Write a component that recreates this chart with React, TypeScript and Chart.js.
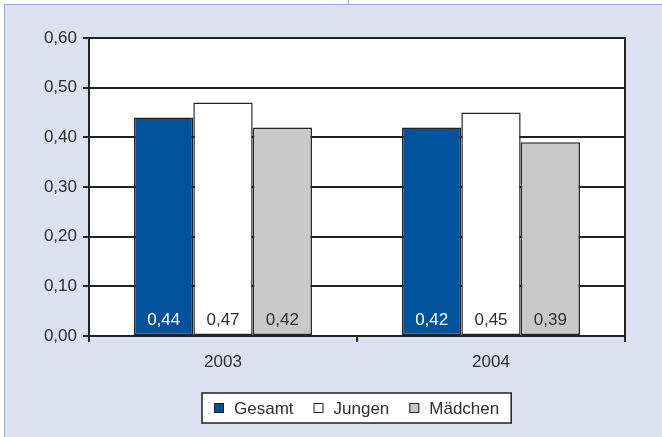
import React, { useEffect, useRef } from "react";
import { Chart, registerables } from "chart.js";

Chart.register(...registerables);

const categories = ["2003", "2004"];
const seriesLabels = ["Gesamt", "Jungen", "Mädchen"];
const gesamt = [0.44, 0.42];
const jungen = [0.47, 0.45];
const maedchen = [0.42, 0.39];
const yTicks = [0, 0.1, 0.2, 0.3, 0.4, 0.5, 0.6];

const FONT = "'Liberation Sans', Arial, Helvetica, sans-serif";
const TEXT = "#2e2e2e";
const LINE = "#222222";
const BG = "#dde0ef";
const fill = ["#00529b", "#ffffff", "#c8c8c8"];
const labelColor = ["#ffffff", TEXT, TEXT];
const fmt = (v: number) => v.toFixed(2).replace(".", ",");

const bgPlugin = {
  id: "bgPlugin",
  beforeDraw(chart: any) {
    const ctx = chart.ctx;
    ctx.save();
    ctx.fillStyle = BG;
    ctx.fillRect(0, 0, chart.width, chart.height);
    ctx.fillStyle = "#ffffff";
    ctx.fillRect(0, 0, chart.width, 4);
    ctx.fillRect(0, 0, 4, chart.height);
    ctx.strokeStyle = "#9aaad6";
    ctx.lineWidth = 1;
    ctx.beginPath();
    ctx.moveTo(4.5, chart.height);
    ctx.lineTo(4.5, 4.5);
    ctx.lineTo(chart.width, 4.5);
    ctx.moveTo(348.5, 0);
    ctx.lineTo(348.5, 4.5);
    ctx.stroke();
    const a = chart.chartArea;
    ctx.fillStyle = "#ffffff";
    ctx.fillRect(a.left, a.top, a.right - a.left, a.bottom - a.top);
    ctx.restore();
  },
  afterDatasetsDraw(chart: any) {
    const ctx = chart.ctx;
    const a = chart.chartArea;
    ctx.save();
    // frame
    ctx.strokeStyle = LINE;
    ctx.lineWidth = 2;
    ctx.strokeRect(a.left, a.top, a.right - a.left, a.bottom - a.top);
    // value labels
    ctx.font = `17px ${FONT}`;
    ctx.textAlign = "center";
    ctx.textBaseline = "middle";
    chart.data.datasets.forEach((ds: any, i: number) => {
      const meta = chart.getDatasetMeta(i);
      meta.data.forEach((el: any, j: number) => {
        ctx.fillStyle = labelColor[i];
        ctx.fillText(fmt(ds.data[j]), el.x, a.bottom - 16);
      });
    });
    // legend
    const items = chart.data.datasets.map((ds: any, i: number) => ({
      text: ds.label,
      color: fill[i],
      w: ctx.measureText(ds.label).width,
    }));
    const pad = 12;
    const gap = 20;
    let total = pad * 2;
    items.forEach((it: any, i: number) => {
      total += 20 + it.w + (i < items.length - 1 ? gap : 0);
    });
    const cx = (a.left + a.right) / 2;
    const bx = Math.round(cx - total / 2);
    const by = 393;
    const bh = 30;
    ctx.fillStyle = "#ffffff";
    ctx.fillRect(bx, by, total, bh);
    ctx.lineWidth = 1.5;
    ctx.strokeStyle = LINE;
    ctx.strokeRect(bx, by, total, bh);
    let x = bx + pad;
    const cy = by + bh / 2;
    ctx.textAlign = "left";
    items.forEach((it: any) => {
      ctx.fillStyle = it.color;
      ctx.fillRect(x, cy - 5, 10, 10);
      ctx.lineWidth = 1;
      ctx.strokeStyle = LINE;
      ctx.strokeRect(x + 0.5, cy - 4.5, 9, 9);
      ctx.fillStyle = TEXT;
      ctx.fillText(it.text, x + 20, cy + 1);
      x += 20 + it.w + gap;
    });
    ctx.restore();
  },
};

export default function App() {
  const ref = useRef<HTMLCanvasElement | null>(null);
  useEffect(() => {
    if (!ref.current) return;
    const series = [gesamt, jungen, maedchen];
    const chart = new Chart(ref.current, {
      type: "bar",
      data: {
        labels: categories,
        datasets: seriesLabels.map((l, i) => ({
          label: l,
          data: series[i],
          backgroundColor: fill[i],
          borderColor: LINE,
          borderWidth: 1.5,
          borderSkipped: false,
          categoryPercentage: 0.664,
          barPercentage: 1,
        })),
      },
      options: {
        responsive: false,
        animation: false,
        devicePixelRatio: 1,
        layout: { padding: { left: 0, right: 37, top: 38, bottom: 0 } },
        plugins: { legend: { display: false }, tooltip: { enabled: false } },
        scales: {
          x: {
            afterFit: (s: any) => {
              s.height = 101;
            },
            border: { display: false },
            grid: {
              drawOnChartArea: false,
              drawTicks: true,
              tickLength: 6,
              offset: true,
              color: LINE,
              lineWidth: 2,
            },
            ticks: { color: TEXT, font: { family: FONT, size: 17 }, padding: 10 },
          },
          y: {
            min: 0,
            max: 0.6,
            afterFit: (s: any) => {
              s.width = 89;
            },
            afterBuildTicks: (s: any) => {
              s.ticks = yTicks.map((v) => ({ value: v }));
            },
            border: { display: false },
            grid: { color: LINE, lineWidth: 2, tickLength: 6, drawTicks: true },
            ticks: {
              color: TEXT,
              font: { family: FONT, size: 17 },
              padding: 6,
              callback: (v: any) => fmt(Number(v)),
            },
          },
        },
      },
      plugins: [bgPlugin],
    });
    return () => chart.destroy();
  }, []);
  return (
    <div style={{ position: "fixed", left: 0, top: 0, width: 662, height: 437 }}>
      <canvas ref={ref} width={662} height={437} style={{ width: 662, height: 437, display: "block" }} />
    </div>
  );
}
